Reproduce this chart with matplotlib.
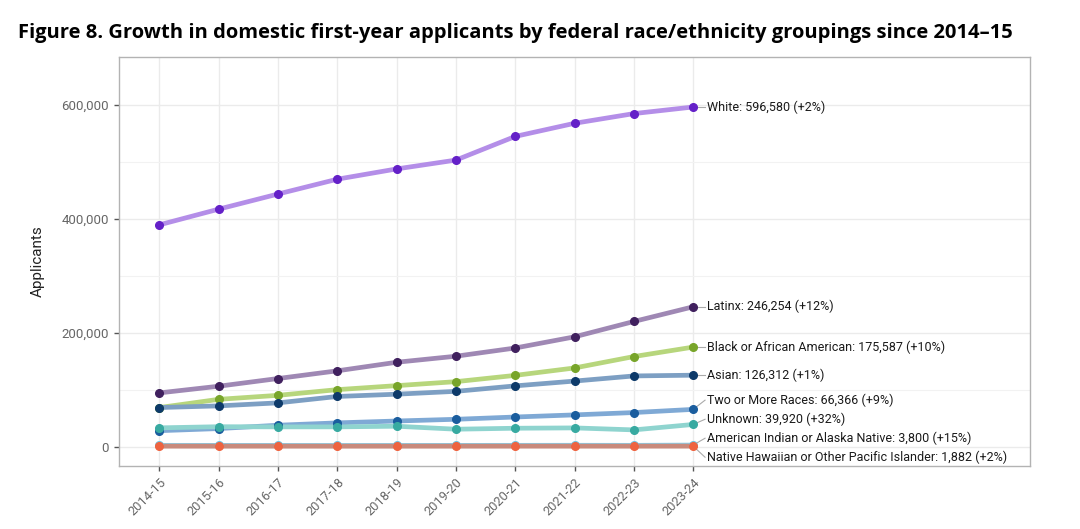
import matplotlib.pyplot as plt
import numpy as np

years = ['2014-15', '2015-16', '2016-17', '2017-18', '2018-19',
         '2019-20', '2020-21', '2021-22', '2022-23', '2023-24']

white = [390000, 417500, 444000, 470000, 488000, 503500, 545000, 568000, 585000, 596580]
latinx = [95300, 107000, 120500, 134000, 149000, 159600, 174000, 193600, 220500, 246254]
black = [69600, 84000, 91000, 101000, 108000, 115000, 126000, 139000, 159000, 175587]
asian = [69600, 72500, 77800, 89000, 93000, 98000, 107600, 116000, 125000, 126312]
two_more = [29000, 32700, 38600, 42700, 46000, 49000, 53000, 56700, 60800, 66366]
unknown = [34000, 36000, 35700, 35700, 36800, 31600, 33300, 33900, 30400, 39920]
am_indian = [3300, 3250, 3200, 3150, 3200, 3250, 3300, 3400, 3300, 3800]
nh_pi = [1850, 1830, 1820, 1800, 1810, 1830, 1850, 1860, 1845, 1882]

labels = ['White: 596,580 (+2%)', 'Latinx: 246,254 (+12%)',
          'Black or African American: 175,587 (+10%)', 'Asian: 126,312 (+1%)',
          'Two or More Races: 66,366 (+9%)', 'Unknown: 39,920 (+32%)',
          'American Indian or Alaska Native: 3,800 (+15%)',
          'Native Hawaiian or Other Pacific Islander: 1,882 (+2%)']
label_y = [596580, 246254, 175587, 126312, 82500, 49000, 15800, -17500]

series = [white, latinx, black, asian, two_more, unknown, am_indian, nh_pi]
line_colors = ['#b48ee8', '#9f88b4', '#b7d67c', '#7d9fc3', '#7fa9d5', '#8fd4cf', '#8ec9e0', '#c98a7c']
dot_colors = ['#6420c8', '#40205e', '#78a52a', '#0d3a6a', '#1a5d9e', '#38aaa1', '#74c3e0', '#ee6340']

plt.rcParams['font.family'] = ['Roboto', 'DejaVu Sans']

fig = plt.figure(figsize=(10.8, 5.29), dpi=100)
ax = fig.add_axes([0.1098, 0.119, 0.8439, 0.773])

x = np.arange(len(years))
for vals, lc, dc in zip(series, line_colors, dot_colors):
    ax.plot(x, vals, color=lc, linewidth=3.4, solid_capstyle='round', zorder=2)
    ax.plot(x, vals, 'o', color=dc, markersize=5.5, zorder=3)

# labels at the right end with short leader lines
for vals, lab, ly in zip(series, labels, label_y):
    ax.plot([x[-1], 9.2], [vals[-1], ly], color='#aaaaaa', linewidth=0.8, zorder=1)
    ax.text(9.24, ly, lab, fontsize=9, color='#1a1a1a', va='center', ha='left')

ax.set_xlim(-0.69, 14.68)
ax.set_ylim(-33000, 684000)
ax.set_xticks(x)
ax.set_xticklabels(years, rotation=45, ha='right', rotation_mode='anchor', fontsize=9.3, color='#666666')
ax.set_yticks([0, 200000, 400000, 600000])
ax.set_yticklabels(['0', '200,000', '400,000', '600,000'], fontsize=9.5, color='#666666')
ax.set_yticks([100000, 300000, 500000], minor=True)
ax.tick_params(axis='both', which='major', color='#555555', length=3.5, width=1)
ax.tick_params(axis='y', which='minor', length=0)
ax.grid(True, which='major', color='#ebebeb', linewidth=1)
ax.grid(True, which='minor', axis='y', color='#f2f2f2', linewidth=0.8)
ax.set_axisbelow(True)
for s in ax.spines.values():
    s.set_color('#b3b3b3')
    s.set_linewidth(1)
ax.set_ylabel('Applicants', fontsize=11, color='#222222', labelpad=12)

fig.text(0.017, 0.937, 'Figure 8. Growth in domestic first-year applicants by federal race/ethnicity groupings since 2014\u201315',
         fontsize=14.5, fontweight='bold', family=['Open Sans', 'DejaVu Sans'], va='center', ha='left')

fig.savefig('out.png', dpi=100)
